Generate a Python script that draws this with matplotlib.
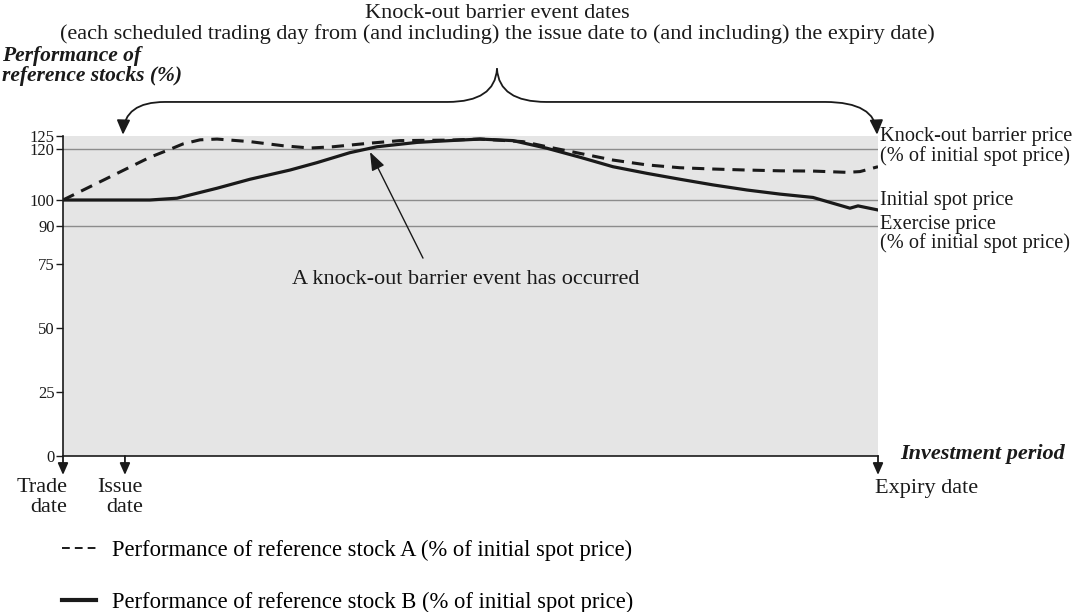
import matplotlib
matplotlib.use("Agg")
import matplotlib.pyplot as plt
from matplotlib.path import Path
from matplotlib.patches import FancyArrowPatch
from matplotlib.lines import Line2D

plt.rcParams['font.family'] = ['Liberation Serif', 'DejaVu Serif']

# --- data (x: 0 = trade date, 100 = expiry date; y: % of initial spot price) ---
x_a = [0, 5.3, 10.67, 13.13, 14.72, 16.81, 18.90, 22.94, 26.99, 30.31, 33.13,
       37.30, 41.35, 47.48, 51.17, 56.44, 59.39, 63.44, 67.48, 71.66, 75.71,
       79.75, 83.93, 87.98, 92.02, 96.20, 97.79, 100]
stock_a = [100, 108.3, 116.7, 119.8, 121.9, 123.5, 123.8, 122.8, 121.2, 120.3, 120.8,
           122.1, 123.2, 123.4, 123.8, 122.8, 120.8, 118.2, 115.6, 113.7, 112.6,
           112.1, 111.7, 111.4, 111.3, 110.8, 111.1, 113.0]

x_b = [0, 7.6, 10.67, 13.99, 18.90, 22.94, 27.85, 31.17, 35.21, 38.53, 43.44,
       47.48, 51.17, 55.21, 59.39, 63.44, 67.48, 71.66, 75.71, 79.75, 83.93,
       87.98, 92.02, 96.56, 97.55, 100]
stock_b = [100, 100, 100, 100.7, 104.6, 108.1, 111.7, 114.6, 118.5, 120.8, 122.5,
           123.2, 123.8, 123.2, 120.2, 116.7, 113.0, 110.4, 108.1, 105.9, 103.9,
           102.3, 101.0, 96.8, 97.7, 96.1]

y_ticks = [0, 25, 50, 75, 90, 100, 120, 125]
ref_levels = [90, 100, 120]
trade_date, issue_date, expiry_date = 0, 7.6, 100

LINE = '#1a1a1a'

fig = plt.figure(figsize=(10.75, 6.12), dpi=100)
ax = fig.add_axes([63 / 1075, 1 - 456 / 612, 815 / 1075, 320 / 612])
ax.set_facecolor('#e5e5e5')
ax.set_xlim(0, 100)
ax.set_ylim(0, 125)

for lvl in ref_levels:
    ax.axhline(lvl, color='#8c8c8c', lw=1.0, zorder=1)

ax.plot(x_a, stock_a, color=LINE, lw=2.2, linestyle=(0, (4, 2.6)), zorder=3)
ax.plot(x_b, stock_b, color=LINE, lw=2.3, solid_joinstyle='round', zorder=3)

# axes styling
for s in ['top', 'right']:
    ax.spines[s].set_visible(False)
for s in ['left', 'bottom']:
    ax.spines[s].set_color(LINE)
    ax.spines[s].set_linewidth(1.2)
ax.set_yticks(y_ticks)
ax.set_xticks([])
ax.tick_params(axis='y', direction='out', length=5, width=1, labelsize=12,
               pad=1, colors=LINE)

# right-hand level labels
right_labels = [(124.8, 'Knock-out barrier price'), (117.3, '(% of initial spot price)'),
                (100, 'Initial spot price'), (90.6, 'Exercise price'),
                (83.2, '(% of initial spot price)')]
for yv, txt in right_labels:
    ax.text(100.25, yv, txt, fontsize=14.7, ha='left', va='center',
            color=LINE, clip_on=False)

# date arrows under the axis
arrow_kw = dict(arrowstyle='-|>,head_length=0.5,head_width=0.22', color=LINE,
                lw=1.3, shrinkA=0, shrinkB=0, mutation_scale=14)
for xd in [trade_date, issue_date, expiry_date]:
    ax.annotate('', xy=(xd, -7.4), xytext=(xd, 0), arrowprops=arrow_kw,
                annotation_clip=False)

ax.text(0.5, -8.6, 'Trade\ndate', fontsize=16, ha='right', va='top',
        multialignment='right', linespacing=1.05, color=LINE)
ax.text(9.8, -8.6, 'Issue\ndate', fontsize=16, ha='right', va='top',
        multialignment='right', linespacing=1.05, color=LINE)
ax.text(99.63, -9.0, 'Expiry date', fontsize=16, ha='left', va='top', color=LINE)
ax.text(102.7, 0.8, 'Investment period', fontsize=16, ha='left', va='center',
        fontweight='bold', style='italic', color=LINE)

# knock-out event annotation
ax.annotate('', xy=(37.67, 118.75), xytext=(44.17, 77.3),
            arrowprops=dict(arrowstyle='-|>,head_length=0.8,head_width=0.3',
                            color=LINE, lw=1.0, shrinkA=0, shrinkB=0,
                            mutation_scale=14))
ax.text(49.4, 68.75, 'A knock-out barrier event has occurred', fontsize=16,
        ha='center', va='center', color=LINE)

# curly brace over the event period
MV, C3, LT = Path.MOVETO, Path.CURVE3, Path.LINETO
left_half = Path([(53.25, 151.2), (53.0, 138.3), (47.2, 138.3), (12.5, 138.3),
                  (7.5, 138.3), (7.36, 125.5)], [MV, C3, C3, LT, C3, C3])
right_half = Path([(53.25, 151.2), (53.5, 138.3), (59.3, 138.3), (93.5, 138.3),
                   (99.7, 138.3), (99.88, 125.5)], [MV, C3, C3, LT, C3, C3])
for p in (left_half, right_half):
    ax.add_patch(FancyArrowPatch(path=p, arrowstyle='-|>,head_length=0.55,head_width=0.25',
                                 mutation_scale=16, color=LINE, lw=1.3,
                                 transform=ax.transData, clip_on=False))

fig.text(497 / 1075, 1 - 13 / 612, 'Knock-out barrier event dates', fontsize=16,
         ha='center', va='center', color=LINE)
fig.text(497 / 1075, 1 - 34 / 612,
         '(each scheduled trading day from (and including) the issue date to '
         '(and including) the expiry date)', fontsize=16, ha='center', va='center',
         color=LINE)
fig.text(2 / 1075, 1 - 56 / 612, 'Performance of', fontsize=15.5, fontweight='bold',
         style='italic', ha='left', va='center', color=LINE)
fig.text(2 / 1075, 1 - 76 / 612, 'reference stocks (%)', fontsize=15.5, fontweight='bold',
         style='italic', ha='left', va='center', color=LINE)

# legend
handles = [Line2D([0], [0], color=LINE, lw=1.4, linestyle=(0, (4, 2.6))),
           Line2D([0], [0], color=LINE, lw=3.0)]
labels = ['Performance of reference stock A (% of initial spot price)',
          'Performance of reference stock B (% of initial spot price)']
fig.legend(handles, labels, loc='upper left', bbox_to_anchor=(62 / 1075, 1 - 540 / 612),
           frameon=False, fontsize=16.3, handlelength=1.5, handletextpad=0.7,
           labelspacing=1.35, borderpad=0, borderaxespad=0)

fig.savefig('out.png', dpi=100)
